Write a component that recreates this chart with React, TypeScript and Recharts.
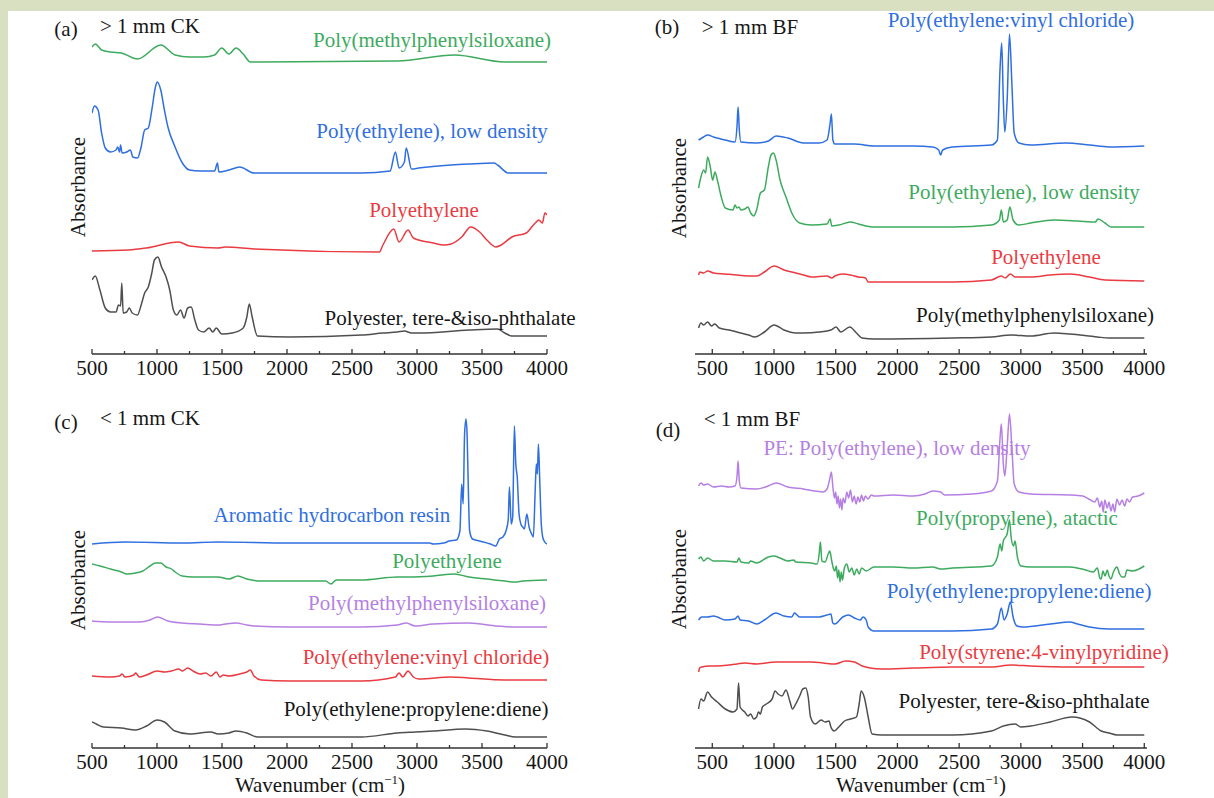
import React from 'react';
import { LineChart, Line, XAxis, YAxis } from 'recharts';

type Pt = [number, number];

// ---------- axis ticks ----------
const TICKS_ALL = [500, 750, 1000, 1250, 1500, 1750, 2000, 2250, 2500, 2750, 3000, 3250, 3500, 3750, 4000];
const DOMAIN_CK: [number, number] = [500, 4000];
const DOMAIN_BF: [number, number] = [360, 4022];
const Y_DOMAIN: [number, number] = [0, 335];

// ---------- (a) > 1 mm CK ----------
const A_SILOXANE: Pt[] = [[500,307],[525,310],[574,304],[643,302],[726,301],[850,295],[1029,309],[1139,299],[1250,297],[1360,297],[1443,299],[1498,306],[1553,300],[1608,306],[1663,300],[1718,292],[1801,292],[2848,293],[3289,299],[3675,292],[4000,292]];
const A_LDPE: Pt[] = [[500,241],[519,248],[547,244],[574,221],[602,206],[643,202],[685,204],[698,207],[712,202],[720,209],[731,201],[767,202],[795,204],[814,197],[850,196],[878,207],[905,224],[933,226],[960,244],[988,267],[1002,272],[1029,264],[1057,244],[1084,227],[1139,207],[1195,191],[1250,184],[1332,183],[1443,183],[1465,191],[1476,182],[1553,184],[1636,187],[1746,181],[2021,181],[2573,181],[2793,183],[2834,202],[2862,186],[2903,192],[2917,206],[2958,185],[3013,186],[3262,189],[3399,190],[3592,191],[3620,189],[3702,181],[4000,181]];
const A_PE: Pt[] = [[500,103],[781,104],[919,106],[1167,112],[1250,108],[1470,106],[1525,107],[1746,105],[2710,102],[2738,109],[2821,125],[2862,112],[2931,124],[2972,116],[3124,111],[3206,109],[3262,110],[3344,117],[3413,127],[3482,122],[3537,114],[3606,107],[3647,109],[3730,117],[3840,121],[3909,131],[3937,134],[3964,131],[3984,141],[4000,139]];
const A_POLYESTER: Pt[] = [[500,74],[525,78],[561,64],[602,46],[643,42],[685,42],[704,49],[720,48],[729,71],[740,41],[767,42],[787,46],[809,41],[850,39],[878,49],[905,61],[933,67],[960,81],[980,94],[1007,97],[1035,87],[1070,77],[1098,64],[1126,44],[1153,39],[1181,44],[1208,36],[1236,46],[1263,47],[1291,34],[1319,24],[1360,22],[1401,26],[1429,22],[1456,26],[1498,20],[1580,21],[1663,26],[1691,37],[1710,50],[1732,37],[1773,18],[2021,17],[2573,19],[2738,21],[2848,22],[2903,23],[2958,21],[3013,21],[3399,24],[3620,25],[3675,21],[3730,18],[4000,18]];

// ---------- (b) > 1 mm BF ----------
const B_EVC: Pt[] = [[389,214],[430,217],[462,219],[510,217],[605,214],[684,212],[700,227],[709,247],[719,224],[732,212],[859,211],[954,213],[1017,218],[1112,216],[1239,211],[1366,211],[1430,214],[1455,231],[1465,240],[1477,214],[1493,210],[1652,210],[1810,208],[2128,208],[2286,207],[2334,204],[2350,199],[2366,204],[2445,207],[2762,209],[2810,214],[2832,287],[2845,311],[2858,254],[2870,222],[2889,254],[2908,320],[2927,271],[2946,221],[2984,211],[3080,209],[3365,211],[3556,209],[3714,207],[4000,208]];
const B_LDPE: Pt[] = [[389,166],[408,177],[430,184],[446,181],[462,197],[484,187],[503,174],[522,182],[541,174],[573,157],[605,146],[668,144],[684,149],[700,146],[716,147],[732,144],[763,145],[789,147],[811,141],[836,138],[859,144],[890,161],[922,164],[954,187],[976,199],[995,201],[1017,194],[1049,174],[1097,157],[1144,141],[1208,131],[1303,129],[1430,130],[1455,135],[1468,128],[1525,129],[1620,132],[1684,130],[1810,127],[2445,127],[2762,129],[2826,134],[2842,144],[2858,132],[2889,134],[2911,147],[2937,134],[2984,129],[3080,131],[3270,134],[3460,133],[3603,132],[3625,135],[3682,131],[3730,127],[4000,127]];
const B_PE: Pt[] = [[389,79],[398,82],[430,81],[462,83],[510,81],[605,80],[700,79],[859,78],[922,82],[1001,88],[1081,84],[1176,81],[1239,79],[1303,77],[1430,78],[1468,76],[1493,78],[1557,80],[1620,79],[1684,77],[1741,76],[1763,72],[1810,72],[2445,72],[2762,74],[2842,78],[2873,76],[2915,80],[2953,77],[3080,77],[3238,79],[3397,80],[3556,77],[3682,74],[4000,73]];
const B_SILOXANE: Pt[] = [[389,26],[408,31],[430,29],[462,32],[494,28],[519,30],[557,26],[636,24],[700,22],[795,19],[843,17],[922,22],[1001,29],[1081,24],[1176,21],[1239,21],[1366,22],[1461,24],[1503,27],[1541,22],[1614,27],[1668,21],[1715,16],[1810,15],[2445,16],[2762,17],[2921,19],[3080,18],[3270,21],[3397,20],[3619,17],[3714,16],[4000,16]];

// ---------- (c) < 1 mm CK ----------
const C_RESIN: Pt[] = [[500,204],[754,206],[1195,205],[1470,206],[2021,205],[2573,205],[3096,205],[3124,204],[3206,205],[3248,207],[3303,208],[3330,217],[3344,264],[3355,244],[3366,314],[3377,329],[3386,311],[3394,264],[3405,217],[3427,209],[3482,207],[3565,204],[3606,202],[3634,209],[3661,211],[3689,219],[3702,229],[3711,261],[3725,224],[3736,231],[3749,322],[3760,284],[3771,271],[3785,234],[3799,224],[3813,221],[3826,219],[3845,234],[3862,221],[3882,214],[3895,211],[3909,257],[3918,284],[3926,274],[3934,304],[3945,264],[3956,224],[3967,211],[3978,207],[4000,204]];
const C_PE: Pt[] = [[500,184],[561,182],[643,179],[726,176],[767,174],[836,175],[891,177],[946,182],[988,185],[1029,185],[1070,181],[1112,179],[1139,176],[1195,172],[1277,171],[1387,171],[1470,171],[1553,169],[1622,172],[1691,169],[1801,167],[2021,167],[2297,167],[2338,164],[2380,168],[2573,168],[2848,171],[2931,171],[3124,172],[3289,174],[3399,171],[3537,169],[3675,167],[3758,166],[3813,167],[4000,168]];
const C_SILOXANE: Pt[] = [[500,127],[643,126],[864,126],[946,128],[1002,131],[1084,127],[1195,125],[1332,124],[1470,123],[1525,124],[1608,125],[1691,123],[1746,122],[2021,121],[2573,121],[2848,123],[2917,125],[2986,122],[3124,124],[3399,125],[3620,122],[3730,121],[4000,121]];
const C_EVC: Pt[] = [[500,72],[643,71],[712,72],[731,74],[754,71],[822,73],[836,75],[864,71],[919,73],[1002,77],[1057,76],[1112,77],[1167,79],[1195,77],[1236,80],[1277,77],[1332,74],[1374,75],[1415,72],[1456,76],[1484,71],[1511,73],[1553,72],[1636,74],[1691,76],[1718,78],[1746,72],[1801,68],[2021,67],[2573,67],[2834,71],[2862,75],[2890,71],[2931,77],[2972,71],[3013,69],[3262,71],[3399,70],[3675,68],[4000,68]];
const C_EPDM: Pt[] = [[500,26],[533,24],[588,21],[726,20],[836,18],[919,22],[1002,28],[1057,26],[1139,17],[1250,14],[1415,16],[1470,14],[1553,15],[1608,17],[1691,15],[1773,11],[2021,11],[2573,11],[2848,15],[2986,16],[3124,17],[3372,19],[3537,17],[3675,13],[3758,11],[4000,11]];

// ---------- (d) < 1 mm BF ----------
const D_LDPE: Pt[] = [[389,262],[408,265],[430,263],[462,264],[510,261],[573,262],[636,261],[684,262],[700,271],[709,287],[719,267],[732,260],[859,259],[954,262],[1017,265],[1112,261],[1239,259],[1334,257],[1398,256],[1430,259],[1455,271],[1465,276],[1477,261],[1490,250],[1500,256],[1510,244],[1520,252],[1530,240],[1540,249],[1550,238],[1560,250],[1575,245],[1590,256],[1605,250],[1620,258],[1635,246],[1650,252],[1665,244],[1680,251],[1695,246],[1710,253],[1725,247],[1740,252],[1760,249],[1790,253],[1810,252],[1969,253],[2128,252],[2223,254],[2286,257],[2350,256],[2382,253],[2604,254],[2762,257],[2810,267],[2832,311],[2842,324],[2858,284],[2870,272],[2889,301],[2908,334],[2927,301],[2946,264],[2984,256],[3080,254],[3397,253],[3500,252],[3550,249],[3600,246],[3620,250],[3640,241],[3655,247],[3667,236],[3680,248],[3700,240],[3714,246],[3730,237],[3746,244],[3760,236],[3778,249],[3800,243],[3820,248],[3841,242],[3860,249],[3880,246],[3905,251],[3950,252],[4000,255]];
const D_PP: Pt[] = [[389,189],[408,191],[430,187],[462,190],[510,187],[605,187],[700,186],[716,190],[732,186],[795,185],[811,187],[859,185],[954,191],[1001,192],[1049,190],[1112,187],[1160,188],[1176,186],[1303,185],[1350,184],[1366,194],[1376,206],[1388,187],[1414,186],[1439,194],[1452,197],[1468,187],[1480,180],[1493,177],[1505,182],[1515,170],[1525,178],[1535,166],[1545,176],[1555,168],[1570,180],[1590,184],[1610,176],[1630,180],[1650,173],[1670,179],[1690,174],[1710,180],[1747,177],[1810,181],[1969,181],[2128,180],[2286,181],[2350,179],[2445,180],[2762,182],[2810,191],[2832,204],[2845,197],[2858,207],[2889,214],[2908,228],[2921,211],[2940,202],[2953,207],[2972,191],[3000,182],[3080,181],[3397,181],[3524,178],[3587,176],[3620,180],[3640,170],[3651,169],[3665,177],[3682,172],[3700,178],[3714,172],[3730,169],[3750,176],[3778,181],[3800,174],[3820,171],[3841,171],[3860,178],[3905,177],[4000,182]];
const D_EPDM: Pt[] = [[389,128],[414,131],[462,131],[510,132],[541,131],[605,128],[684,129],[709,132],[725,128],[795,127],[859,124],[922,128],[1017,135],[1081,132],[1144,131],[1166,135],[1208,131],[1303,131],[1366,131],[1430,133],[1461,134],[1477,125],[1493,124],[1557,131],[1604,133],[1652,130],[1699,128],[1722,131],[1747,128],[1763,121],[1810,117],[2128,117],[2445,117],[2762,119],[2810,124],[2842,140],[2864,128],[2889,134],[2915,146],[2937,131],[2969,122],[3016,121],[3238,124],[3397,126],[3460,124],[3556,121],[3714,119],[4000,119]];
const D_SVP: Pt[] = [[389,76],[398,80],[414,81],[478,82],[541,82],[636,83],[700,84],[763,85],[859,84],[1017,86],[1176,86],[1303,86],[1398,85],[1493,84],[1582,87],[1652,86],[1715,82],[1779,80],[1874,79],[2128,80],[2445,81],[2762,81],[2921,83],[3080,82],[3397,81],[4000,81]];
const D_POLYESTER: Pt[] = [[389,39],[408,49],[430,47],[462,56],[494,51],[541,46],[605,39],[668,36],[700,39],[713,65],[725,41],[763,36],[789,32],[811,34],[836,29],[859,31],[874,36],[890,34],[906,41],[938,44],[985,49],[1008,57],[1033,54],[1065,52],[1097,58],[1128,47],[1150,39],[1176,44],[1208,52],[1233,59],[1258,60],[1277,51],[1296,31],[1334,24],[1382,28],[1414,26],[1446,27],[1461,21],[1487,17],[1525,21],[1572,27],[1620,29],[1668,31],[1690,44],[1706,57],[1731,51],[1763,31],[1795,14],[1874,13],[2445,13],[2762,17],[2858,22],[2953,24],[3000,21],[3080,22],[3238,26],[3413,31],[3556,26],[3651,17],[3714,15],[3778,13],[4000,13]];

// ---------- styling ----------
const FONT = '"Liberation Serif", "Times New Roman", Times, serif';
const GREEN = '#3dab5e';
const BLUE = '#2f6fe0';
const RED = '#ea3b42';
const PURPLE = '#b67fe3';
const GRAY = '#4f4f4f';
const INK = '#161616';
const AXIS = '#333333';

const toData = (pts: Pt[]) => pts.map(([x, y]) => ({ x, y }));

const AxisTick = (props: any) => {
  const { x, y, payload } = props;
  const major = payload.value % 500 === 0;
  return (
    <g>
      <line x1={x} x2={x} y1={y} y2={y - (major ? 5 : 3)} stroke={AXIS} strokeWidth={1.3} />
      {major && (
        <text x={x} y={y + 21} textAnchor="middle" fontSize={21} fontFamily={FONT} fill={INK}>
          {payload.value}
        </text>
      )}
    </g>
  );
};

type Series = { pts: Pt[]; color: string };
type Panel = {
  left: number; top: number; width: number; height: number;
  margin: { top: number; right: number; bottom: number; left: number };
  domain: [number, number];
  series: Series[];
};

const PANELS: Panel[] = [
  { left: 0, top: 0, width: 600, height: 395, margin: { top: 19, right: 53, bottom: 11, left: 92 }, domain: DOMAIN_CK,
    series: [{ pts: A_SILOXANE, color: GREEN }, { pts: A_LDPE, color: BLUE }, { pts: A_PE, color: RED }, { pts: A_POLYESTER, color: GRAY }] },
  { left: 600, top: 0, width: 614, height: 395, margin: { top: 19, right: 67, bottom: 11, left: 95 }, domain: DOMAIN_BF,
    series: [{ pts: B_EVC, color: BLUE }, { pts: B_LDPE, color: GREEN }, { pts: B_PE, color: RED }, { pts: B_SILOXANE, color: GRAY }] },
  { left: 0, top: 394, width: 600, height: 404, margin: { top: 19, right: 53, bottom: 20, left: 92 }, domain: DOMAIN_CK,
    series: [{ pts: C_RESIN, color: BLUE }, { pts: C_PE, color: GREEN }, { pts: C_SILOXANE, color: PURPLE }, { pts: C_EVC, color: RED }, { pts: C_EPDM, color: GRAY }] },
  { left: 600, top: 394, width: 614, height: 404, margin: { top: 19, right: 67, bottom: 20, left: 95 }, domain: DOMAIN_BF,
    series: [{ pts: D_LDPE, color: PURPLE }, { pts: D_PP, color: GREEN }, { pts: D_EPDM, color: BLUE }, { pts: D_SVP, color: RED }, { pts: D_POLYESTER, color: GRAY }] },
];

type Lbl = { text: string; x: number; y: number; color: string };
const LABELS: Lbl[] = [
  { text: '(a)', x: 66, y: 29, color: INK },
  { text: '> 1 mm CK', x: 150, y: 26, color: INK },
  { text: 'Poly(methylphenylsiloxane)', x: 432, y: 40, color: GREEN },
  { text: 'Poly(ethylene), low density', x: 432, y: 131, color: BLUE },
  { text: 'Polyethylene', x: 424, y: 210, color: RED },
  { text: 'Polyester, tere-&iso-phthalate', x: 450, y: 318, color: INK },
  { text: '(b)', x: 667, y: 27, color: INK },
  { text: '> 1 mm BF', x: 750, y: 27, color: INK },
  { text: 'Poly(ethylene:vinyl chloride)', x: 1011, y: 20, color: BLUE },
  { text: 'Poly(ethylene), low density', x: 1024, y: 192, color: GREEN },
  { text: 'Polyethylene', x: 1046, y: 257, color: RED },
  { text: 'Poly(methylphenylsiloxane)', x: 1035, y: 315, color: INK },
  { text: '(c)', x: 66, y: 422, color: INK },
  { text: '< 1 mm CK', x: 150, y: 418, color: INK },
  { text: 'Aromatic hydrocarbon resin', x: 332, y: 515, color: BLUE },
  { text: 'Polyethylene', x: 447, y: 561, color: GREEN },
  { text: 'Poly(methylphenylsiloxane)', x: 427, y: 603, color: PURPLE },
  { text: 'Poly(ethylene:vinyl chloride)', x: 426, y: 657, color: RED },
  { text: 'Poly(ethylene:propylene:diene)', x: 416, y: 709, color: INK },
  { text: '(d)', x: 668, y: 430, color: INK },
  { text: '< 1 mm BF', x: 752, y: 419, color: INK },
  { text: 'PE: Poly(ethylene), low density', x: 897, y: 448, color: PURPLE },
  { text: 'Poly(propylene), atactic', x: 1017, y: 518, color: GREEN },
  { text: 'Poly(ethylene:propylene:diene)', x: 1019, y: 591, color: BLUE },
  { text: 'Poly(styrene:4-vinylpyridine)', x: 1044, y: 652, color: RED },
  { text: 'Polyester, tere-&iso-phthalate', x: 1024, y: 701, color: INK },
];

const Y_LABELS = [
  { x: 78, y: 187 }, { x: 679, y: 188 }, { x: 78, y: 580 }, { x: 679, y: 579 },
];
const X_LABELS = [{ x: 320, y: 785 }, { x: 921, y: 785 }];

const textStyle = (x: number, y: number, color: string, rotate = false): React.CSSProperties => ({
  position: 'absolute', left: x, top: y,
  transform: `translate(-50%, -50%)${rotate ? ' rotate(-90deg)' : ''}`,
  color, fontSize: 21, fontFamily: FONT, whiteSpace: 'nowrap', lineHeight: 1,
});

export default function App() {
  return (
    <div style={{ position: 'absolute', left: 0, top: 0, width: 1214, height: 798, background: '#d9dfc1', overflow: 'hidden' }}>
      <div style={{ position: 'absolute', left: 8, top: 11, width: 1206, height: 787, background: '#ffffff' }} />
      {PANELS.map((p, i) => (
        <div key={i} style={{ position: 'absolute', left: p.left, top: p.top, width: p.width, height: p.height }}>
          <LineChart width={p.width} height={p.height} margin={p.margin}>
            <XAxis
              type="number" dataKey="x" domain={p.domain} ticks={TICKS_ALL} interval={0}
              allowDataOverflow height={30} tickSize={0} tickMargin={0} tickLine={false}
              axisLine={{ stroke: AXIS, strokeWidth: 1.5 }} tick={<AxisTick />}
            />
            <YAxis
              type="number" domain={Y_DOMAIN} allowDataOverflow width={0} tick={false} tickLine={false}
              axisLine={{ stroke: AXIS, strokeWidth: 1.5 }}
            />
            {p.series.map((s, j) => (
              <Line key={j} data={toData(s.pts)} dataKey="y" type="monotoneX" stroke={s.color}
                strokeWidth={1.5} dot={false} activeDot={false} isAnimationActive={false} />
            ))}
          </LineChart>
        </div>
      ))}
      {LABELS.map((l, i) => (
        <div key={i} style={textStyle(l.x, l.y, l.color)}>{l.text}</div>
      ))}
      {Y_LABELS.map((l, i) => (
        <div key={`y${i}`} style={textStyle(l.x, l.y, INK, true)}>Absorbance</div>
      ))}
      {X_LABELS.map((l, i) => (
        <div key={`x${i}`} style={textStyle(l.x, l.y, INK)}>
          Wavenumber (cm<span style={{ fontSize: 13, verticalAlign: 'super', lineHeight: 0 }}>−1</span>)
        </div>
      ))}
    </div>
  );
}
